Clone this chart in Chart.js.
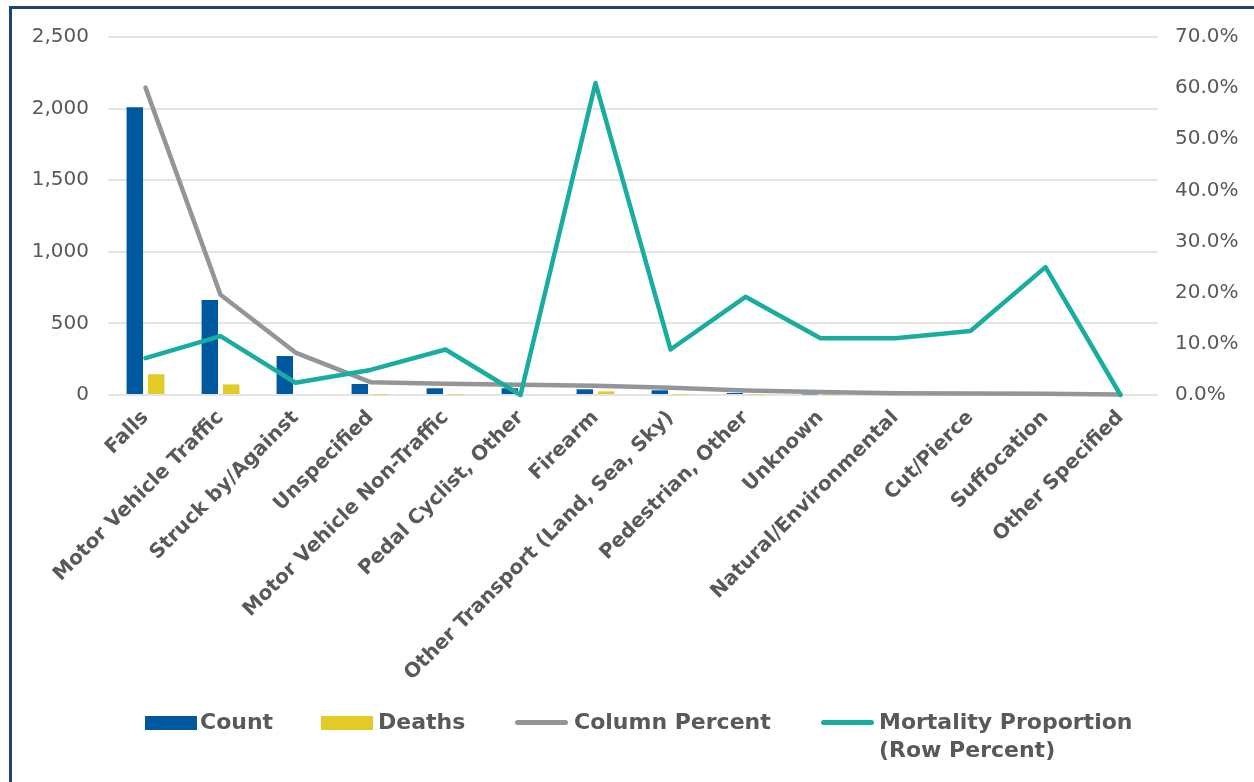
<!DOCTYPE html>
<html>
<head>
<meta charset="utf-8">
<script src="https://cdn.jsdelivr.net/npm/chart.js@4.4.1/dist/chart.umd.min.js"></script>
<style>
  html, body { margin: 0; padding: 0; background: #fff; overflow: hidden; }
  #wrap { position: relative; width: 1254px; height: 782px; }
  #frame { position: absolute; left: 9px; top: 6px; right: -20px; bottom: -20px; border: 3px solid #1b4472; }
  #c { position: absolute; left: 0; top: 0; }
  .lg { position: absolute; font-family: "DejaVu Sans", sans-serif; font-weight: bold; font-size: 22px; color: #595959; line-height: 28px; }
  .sw { position: absolute; }
</style>
</head>
<body>
<div id="wrap">
  <div id="frame"></div>
  <canvas id="c" width="1254" height="782"></canvas>
  <div id="legend"></div>
</div>
<script>
const categories = ["Falls", "Motor Vehicle Traffic", "Struck by/Against", "Unspecified", "Motor Vehicle Non-Traffic", "Pedal Cyclist, Other", "Firearm", "Other Transport (Land, Sea, Sky)", "Pedestrian, Other", "Unknown", "Natural/Environmental", "Cut/Pierce", "Suffocation", "Other Specified"];
const countValues = [2010, 663, 272, 77, 47, 47, 40, 33, 14, 4, 3, 3, 2, 1];
const deathValues = [145, 74, 7, 3, 3, 0, 25, 3, 3, 1, 1, 1, 1, 0];
const columnPercent = [60.1, 19.6, 8.3, 2.5, 2.2, 2.0, 1.8, 1.4, 0.9, 0.6, 0.35, 0.3, 0.25, 0.1];
const mortalityPercent = [7.2, 11.5, 2.4, 4.9, 8.9, 0, 61.0, 8.9, 19.2, 11.1, 11.1, 12.5, 25.0, 0];
const leftTicks = [0, 500, 1000, 1500, 2000, 2500];
const rightTicks = [0, 10, 20, 30, 40, 50, 60, 70];

const COLORS = { count: '#00599F', deaths: '#E2CB28', col: '#939598', mort: '#19AD9F', text: '#595959', grid: '#e4e4e4' };
const FONT = "'DejaVu Sans', sans-serif";

new Chart(document.getElementById('c'), {
  data: {
    labels: categories,
    datasets: [
      { type: 'line', label: 'Mortality Proportion (Row Percent)', data: mortalityPercent, yAxisID: 'y1', borderColor: COLORS.mort, backgroundColor: COLORS.mort, borderWidth: 4.5, pointRadius: 0, tension: 0, borderJoinStyle: 'round', borderCapStyle: 'round', order: 0, clip: false },
      { type: 'line', label: 'Column Percent', data: columnPercent, yAxisID: 'y1', borderColor: COLORS.col, backgroundColor: COLORS.col, borderWidth: 4.5, pointRadius: 0, tension: 0, borderJoinStyle: 'round', borderCapStyle: 'round', order: 1, clip: false },
      { type: 'bar', label: 'Count', data: countValues, yAxisID: 'y', backgroundColor: COLORS.count, order: 2, categoryPercentage: 0.57, barPercentage: 0.77 },
      { type: 'bar', label: 'Deaths', data: deathValues, yAxisID: 'y', backgroundColor: COLORS.deaths, order: 2, categoryPercentage: 0.57, barPercentage: 0.77 }
    ]
  },
  options: {
    responsive: false,
    animation: false,
    layout: { padding: { top: 37, left: 0, right: 0, bottom: 0 } },
    plugins: { legend: { display: false }, tooltip: { enabled: false } },
    scales: {
      x: {
        grid: { display: false, drawTicks: false },
        border: { display: false },
        ticks: { autoSkip: false, maxRotation: 45, minRotation: 45, padding: 11, color: COLORS.text, font: { family: FONT, size: 20, weight: 'bold' } },
        afterFit: s => { s.height = 387; }
      },
      y: {
        position: 'left', min: 0, max: 2500,
        afterBuildTicks: s => { s.ticks = leftTicks.map(v => ({ value: v })); },
        grid: { color: COLORS.grid, lineWidth: 2, drawTicks: false },
        border: { display: false },
        ticks: { padding: 19, color: COLORS.text, font: { family: FONT, size: 20 }, callback: v => v.toLocaleString('en-US') },
        afterFit: s => { s.width = 108; }
      },
      y1: {
        position: 'right', min: 0, max: 70,
        afterBuildTicks: s => { s.ticks = rightTicks.map(v => ({ value: v })); },
        grid: { display: false, drawTicks: false },
        border: { display: false },
        ticks: { padding: 17, color: COLORS.text, font: { family: FONT, size: 20 }, callback: v => v.toFixed(1) + '%' },
        afterFit: s => { s.width = 96; }
      }
    }
  }
});

// HTML legend
const legendItems = [
  { text: 'Count', kind: 'box', color: COLORS.count, sx: 145, tx: 200 },
  { text: 'Deaths', kind: 'box', color: COLORS.deaths, sx: 321, tx: 378 },
  { text: 'Column Percent', kind: 'line', color: COLORS.col, sx: 515, tx: 574 },
  { text: 'Mortality Proportion<br>(Row Percent)', kind: 'line', color: COLORS.mort, sx: 821, tx: 879 }
];
const lg = document.getElementById('legend');
legendItems.forEach(it => {
  const sw = document.createElement('div');
  sw.className = 'sw';
  if (it.kind === 'box') {
    Object.assign(sw.style, { left: it.sx + 'px', top: '716px', width: '52px', height: '14px', background: it.color });
  } else {
    Object.assign(sw.style, { left: it.sx + 'px', top: '720px', width: '53px', height: '5px', borderRadius: '3px', background: it.color });
  }
  lg.appendChild(sw);
  const t = document.createElement('div');
  t.className = 'lg';
  t.style.left = it.tx + 'px';
  t.style.top = '708px';
  t.innerHTML = it.text;
  lg.appendChild(t);
});
</script>
</body>
</html>
